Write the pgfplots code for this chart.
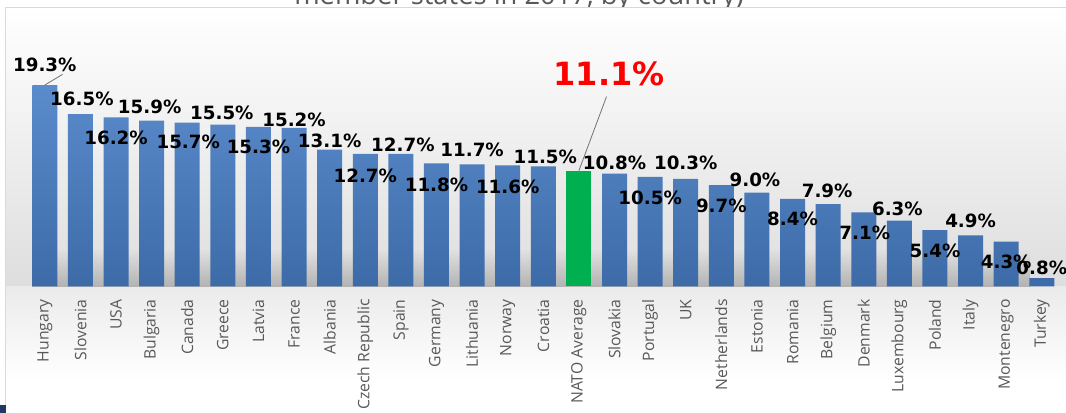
\documentclass[border=0pt]{standalone}
\usepackage{pgfplots}
\pgfplotsset{compat=1.18}
\usepackage{pgfplotstable}
\usepackage{fontspec}
\setmainfont{Open Sans}
\newfontfamily\vfont{DejaVu Sans}
\definecolor{barTop}{HTML}{5A8BCB}
\definecolor{barBot}{HTML}{3D6BA8}
\definecolor{natoGreen}{HTML}{00B050}
\definecolor{tickGray}{HTML}{595959}
\definecolor{frameGray}{HTML}{D9D9D9}
\definecolor{navy}{HTML}{1F3864}

% x = bar position, y = share in %, dx/dy = label offset from bar top (px)
\pgfplotstableread[col sep=comma]{
x,y,dx,dy
0,19.3,0,20
1,16.5,1.5,15
2,16.2,0,-20.6
3,15.9,-2,13.5
4,15.7,1,-19.4
5,15.5,-1,11.7
6,15.3,0,-20.2
7,15.2,0,7.8
8,13.1,0,8.7
9,12.7,0,-22
10,12.7,2,8.9
11,11.8,0,-21.7
12,11.7,0,14.4
13,11.6,0,-21.6
14,11.5,2,9.4
16,10.8,0,11.2
17,10.5,0,-20.6
18,10.3,0,16.5
19,9.7,0,-20.3
20,9.0,-2,12.5
21,8.4,0,-20.2
22,7.9,-1,13.5
23,7.1,1,-20.1
24,6.3,-2,11.7
25,5.4,0,-20.9
26,4.9,0,14.3
27,4.3,0,-20.1
28,0.8,0,10
}\countries
\pgfplotstableread[col sep=comma]{
x,y
15,11.1
}\nato

\begin{document}
\begin{tikzpicture}
% background, in pixels from the top left corner
\begin{scope}[shift={(0,309.75pt)}, x=0.75pt, y=-0.75pt]
  \node[anchor=base, text=tickGray, inner sep=0pt, font=\fontsize{20.5}{22}\selectfont] at (519,5) {member states in 2017, by country)};
  \shade[top color=white, bottom color=black!13] (5.5,8) rectangle (1070,286.5);
  \shade[top color=black!8, bottom color=white] (5.5,286.5) rectangle (1070,380);
  \fill[white] (5.5,380) rectangle (1070,420);
  \draw[frameGray, line width=0.75pt] (5.5,420) -- (5.5,8) -- (1070,8);
  \shade[top color=black!11, bottom color=black!30] (32,248) rectangle (1030,286.5);
  \fill[navy] (0,405) rectangle (6,413);
\end{scope}

\begin{axis}[
  at={(20.25pt,94.875pt)}, anchor=south west,
  scale only axis, width=774.45pt, height=156.6pt,
  xmin=-0.5, xmax=28.5, ymin=0, ymax=20,
  enlargelimits=false, clip=false,
  axis line style={draw=none},
  ytick=\empty,
  xtick={0,...,28},
  xticklabels={Hungary,Slovenia,USA,Bulgaria,Canada,Greece,Latvia,France,Albania,Czech Republic,Spain,Germany,Lithuania,Norway,Croatia,NATO Average,Slovakia,Portugal,UK,Netherlands,Estonia,Romania,Belgium,Denmark,Luxembourg,Poland,Italy,Montenegro,Turkey},
  major tick length=0pt,
  xticklabel style={rotate=90, anchor=east, inner sep=0pt, text=tickGray, font=\fontsize{11.8}{12}\selectfont},
  xticklabel shift=9.5pt,
  ybar, bar width=18.75pt, bar shift=0pt,
  /pgf/number format/assume math mode=true,
  point meta=y,
]
\addplot[draw=none, top color=barTop, bottom color=barBot, bar shift=0pt,
  visualization depends on={\thisrow{dy}*0.75 \as \dy},
  visualization depends on={\thisrow{dx}*0.75 \as \dx},
  nodes near coords={\pgfmathprintnumber[fixed,fixed zerofill,precision=1]{\pgfplotspointmeta}\%},
  nodes near coords style={anchor=center, xshift=\dx pt, yshift=\dy pt, inner sep=0pt,
    font=\vfont\bfseries\fontsize{13.7}{14}\selectfont, text=black},
] table[x=x, y=y] {\countries};
\addplot[draw=none, fill=natoGreen, bar shift=0pt,
  nodes near coords={\pgfmathprintnumber[fixed,fixed zerofill,precision=1]{\pgfplotspointmeta}\%},
  nodes near coords style={anchor=center, xshift=22.6pt, yshift=72.8pt, inner sep=0pt,
    font=\vfont\bfseries\fontsize{24}{26}\selectfont, text=red},
] table[x=x, y=y] {\nato};
\draw[black!55, line width=0.6pt] (axis cs:15,11.1) -- ++(20.7pt,55.5pt);
\draw[black!55, line width=0.6pt] (axis cs:0,19.3) -- ++(0,8pt);
\end{axis}
\pgfresetboundingbox
\useasboundingbox (0,0) rectangle (799.5pt,309.75pt);
\end{tikzpicture}
\end{document}
